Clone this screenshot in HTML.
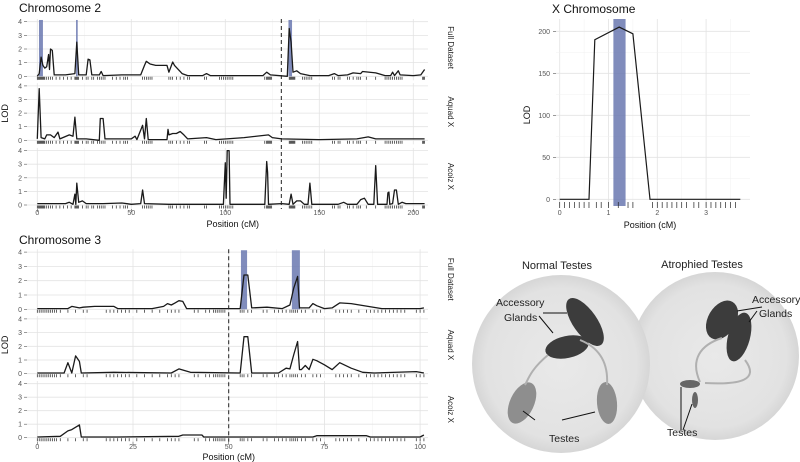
<!DOCTYPE html>
<html><head><meta charset="utf-8">
<style>
body{margin:0;background:#fff;}
svg{display:block;font-family:"Liberation Sans",sans-serif;}
</style></head>
<body>
<svg id="fig" width="800" height="462" viewBox="0 0 800 462" xmlns="http://www.w3.org/2000/svg">
<defs>
<radialGradient id="dish" cx="50%" cy="50%" r="50%">
<stop offset="0" stop-color="#e9e9e9"/><stop offset="0.85" stop-color="#e2e2e2"/><stop offset="1" stop-color="#d6d6d6"/>
</radialGradient>
</defs>
<g id="photo">
<circle cx="715" cy="356" r="84" fill="url(#dish)"/>
<circle cx="561" cy="364" r="89" fill="url(#dish)"/>
<g fill="#3c3c3c">
<ellipse cx="585" cy="322" rx="12" ry="28" transform="rotate(-35 585 322)"/>
<ellipse cx="567" cy="347" rx="22" ry="11" transform="rotate(-12 567 347)"/>
<ellipse cx="722" cy="320" rx="14" ry="21" transform="rotate(30 722 320)"/>
<ellipse cx="739" cy="337" rx="11" ry="25" transform="rotate(15 739 337)"/>
</g>
<g fill="#8e8e8e">
<ellipse cx="522" cy="403" rx="12" ry="22" transform="rotate(25 522 403)"/>
<ellipse cx="607" cy="403" rx="10" ry="21" transform="rotate(-5 607 403)"/>
<ellipse cx="690" cy="384" rx="10" ry="4" fill="#666"/>
<ellipse cx="695" cy="400" rx="3" ry="8" fill="#666"/>
</g>
<g fill="none" stroke="#b0b0b0" stroke-width="2">
<path d="M548 355 C530 370 528 380 525 385"/><path d="M580 340 C605 350 608 370 607 385"/>
<path d="M722 338 C700 345 690 360 700 382 M745 360 C760 380 740 385 705 383"/>
</g>
<g font-size="10.5" fill="#222">
<text x="557" y="269" text-anchor="middle" font-size="11">Normal Testes</text>
<text x="702" y="268" text-anchor="middle" font-size="11">Atrophied Testes</text>
<text x="496" y="306">Accessory</text>
<text x="504" y="321">Glands</text>
<text x="752" y="303">Accessory</text>
<text x="759" y="317">Glands</text>
<text x="549" y="442">Testes</text>
<text x="667" y="436">Testes</text>
</g>
<g stroke="#111" stroke-width="1" fill="none">
<path d="M543 313 L567 313 M539 316 L553 333 M535 420 L523 411 M562 420 L595 412 M762 307 L737 311 M757 311 L749 322 M681 430 L681 387 M683 430 L692 404"/>
</g>
</g>
<g id="plots"></g>
</svg>
<script>
// ---- Chromosome 2 data ----
const chr2FullPos = [0,1,2,3,4,5,6,6.5,7,8,9,15,20,21,22,26,27,28,29,33,34,35,45,55,57,58,60,63,69,70,72,73,77,80,88,90,92,120,122,124,133,134,135,136,138,140,145,155,158,160,165,168,172,173,180,185,188,189,190,192,193,200,204,206];
const chr2FullLod = [0,0.2,1.4,0.8,0.6,0.7,1.6,0.5,2.0,1.9,0.1,0.1,0.2,2.5,0.1,0.1,1.25,1.2,0.1,0.1,0.35,0.05,0.1,0.1,0.8,1.1,0.9,0.8,0.8,0.3,1.05,0.8,0.2,0.05,0.05,0.2,0.05,0.05,0.3,0.1,0,3.5,2.5,0.3,0.4,0.2,0.05,0.05,0.2,0.05,0.1,0.25,0.2,0.35,0.25,0.05,0.05,0.3,0.05,0.4,0.1,0.05,0.1,0.5];
const chr2AquadPos = [0,1,2,4,5,7,9,11,12,17,19,20,21,26,33,33.5,35,36,50,52,53,56,57,58,59,69,69.5,70,72,74,76,78,80,90,95,110,123,125,130,150,170,176,180,206];
const chr2AquadLod = [0.1,3.8,0.2,0.1,0.4,0.4,0.2,0.6,0.1,0.4,0.3,1.7,0.1,0.1,0,1.6,1.6,0.1,0.1,0.3,0.05,1.1,0.1,1.6,0.05,0.05,0.8,0.4,0.5,0.5,0.65,0.4,0.1,0.2,0.05,0.2,0.4,0.2,0.1,0.05,0.1,0.25,0.1,0.1];
const chr2AcoizPos = [0,15,17,19,20,20.5,21,22,24,26,35,45,50,55,56,57,70,99,100,100.5,101,102,102.5,121,122,122.5,123,130,134,135,136,138,140,142,144,145,146,160,163,165,170,172,174,176,179,180,181,186,186.5,187,187.5,189,190,191,192,194,196,206];
const chr2AcoizLod = [0.1,0.1,0.2,0.05,0.8,0.05,1.6,0.2,0.3,0.1,0.1,0.15,0.05,0.1,1.1,0.1,0.05,0.05,3.1,0.5,4.0,4.0,0.05,0.05,3.2,2.4,0.05,0.1,0.05,0.8,0.05,0.3,0.3,0.05,0.05,1.6,0.05,0.05,0.2,0.05,0.05,0.4,0.5,0.05,0.05,2.9,0.05,0.05,0.9,0.95,0.05,0.1,1.1,1.1,0.05,0.2,0.1,0.1];
const chr2BandStart = [0.9,20.6,133.6];
const chr2BandEnd = [3.0,21.5,135.5];
const chr2Dash = [129.8];
const chr2Markers = [0,0.5,1,1.5,2,2.5,3,3.5,4,5,6,7,8,10,12,14,16,18,20,20.5,21,21.5,22,24,26,27,29,30,32,33,34,35,36,40,42,44,46,47,48,56,57,58,59,60,61,70,71,72,74,76,78,80,81,89,90,97,98,99,100,101,102,103,104,121,122,122.5,123,123.5,124,124.5,134,134.5,135,135.5,136,136.5,137,141,142,143,144,145,146,157,158,160,161,165,166,168,170,171,172,175,180,185,186,187,188,189,190,191,192,193,194,205,205.5,206];
// ---- Chromosome 3 data ----
const chr3FullPos = [0,8,9,11,12,15,20,21,30,33,34,35,36,37,38,39,53,54,55,56,60,64,66,67,68,68.5,71,72,73,75,77,79,82,90,100,101];
const chr3FullLod = [0.05,0.05,0.2,0.1,0.15,0.2,0.2,0.05,0.05,0.2,0.4,0.3,0.45,0.6,0.55,0.05,0.05,2.4,2.4,0.1,0.15,0.05,0.3,1.5,2.3,0.1,0.1,0.4,0.25,0.05,0.1,0.45,0.4,0.05,0.05,0.1];
const chr3AquadPos = [0,7,8,9,10,11,11.5,20,35,37,40,53,54,55,56,63,65,66,67,68,68.5,69,70,71,72,73,75,77,79,82,85,88,99,101];
const chr3AquadLod = [0.05,0.05,0.8,0.05,1.3,0.9,0.05,0.1,0.05,0.35,0.1,0.05,2.7,2.7,0.05,0.05,0.4,0.35,1.4,2.35,0.3,0.3,0.6,0.3,1.05,0.95,0.65,0.3,0.8,0.4,0.1,0.05,0.15,0.05];
const chr3AcoizPos = [0,6,8,9,11,11.5,18,21,37,38,43,43.5,72,73,86,87,100,101];
const chr3AcoizLod = [0.05,0.1,0.5,0.6,0.95,0.05,0.05,0.05,0.1,0.2,0.2,0.05,0.05,0.15,0.15,0.05,0.05,0.2];
const chr3BandStart = [53.2,66.5];
const chr3BandEnd = [54.8,68.6];
const chr3Dash = [50];
const chr3Markers = [0,0.5,1,1.5,2,2.5,3,3.5,4,4.5,5,6,8,10,12,13,18,19,20,21,22,23,24,26,28,30,32,34,35,36,37,41,42,44,45,46,46.5,47,47.5,48,48.5,49,53,53.5,54,55,56,59,60,62,63,64,65,66,66.5,67,67.5,68,69,70,72,73,74,78,79,80,81,82,84,86,87,88,89,90,91,92,93,94,95,96,99,100,101];
// ---- X chromosome data ----
const chrXPos = [0,0.6,0.72,1.22,1.5,1.85,3.7];
const chrXLod = [0,0,190,205,197,0,0];
const chrXBandStart = [1.1];
const chrXBandEnd = [1.35];
const chrXMarkers = [0,0.1,0.2,0.3,0.4,0.5,0.6,0.75,0.85,1.0,1.2,1.4,1.5,1.9,2.0,2.1,2.2,2.3,2.4,2.5,2.6,2.75,2.85,3.0,3.1,3.2,3.3,3.4,3.5,3.6];
const chrXTicks = [0,1,2,3];
const lodTicks = [0,1,2,3,4];
const xLodTicks = [0,50,100,150,200];

const NS = "http://www.w3.org/2000/svg";
const root = document.getElementById('plots');
function mk(tag, attrs, parent){const e=document.createElementNS(NS,tag);for(const k in attrs)e.setAttribute(k,attrs[k]);(parent||root).appendChild(e);return e;}

function chromPanel(cfg){
  const sx = v => cfg.x0 + (v - 0) * cfg.pxPer;
  const g = mk('g',{});
  
  
  const t = mk('text',{x:19,y:cfg.titleY,'font-size':12,fill:'#111'},g); t.textContent=cfg.title;
  
  
  const ps = cfg.panels;
  ps.forEach((p,i)=>{
    const sy = v => p.y0 - v*p.per;
    const top = p.y0 - 4.2*p.per, bot = p.y0 + 4;
    const pg = mk('g',{},g);
    
    
    for (let v=0; v<=cfg.xmax; v+=cfg.minor){
      mk('line',{x1:sx(v),x2:sx(v),y1:top,y2:bot,stroke:(v%cfg.major===0)?'#e3e3e3':'#f0f0f0','stroke-width':(v%cfg.major===0)?0.8:0.5},pg);
    }
    lodTicks.forEach(v=>{
      mk('line',{x1:cfg.gx0,x2:cfg.gx1,y1:sy(v),y2:sy(v),stroke:'#e3e3e3','stroke-width':0.8},pg);
      const tl = mk('text',{x:cfg.gx0-5,y:sy(v)+2.5,'font-size':7,fill:'#555','text-anchor':'end'},pg); tl.textContent=v;
      
      
      mk('line',{x1:cfg.gx0-3,x2:cfg.gx0,y1:sy(v),y2:sy(v),stroke:'#555','stroke-width':0.6},pg);
    });
    if (i===0) cfg.bandS.forEach((s,j)=>{
      const r = mk('rect',{x:sx(s),y:top+1,width:sx(cfg.bandE[j])-sx(s),height:p.y0-top-1,fill:'#6a78b0','fill-opacity':0.85},pg);
      
      
    });
    cfg.markers.forEach(m=>{ mk('line',{x1:sx(m),x2:sx(m),y1:p.y0+0.5,y2:p.y0+3.5,stroke:'#222','stroke-width':0.7},pg); });
    const d = p.pos.map((v,k)=>(k?'L':'M')+sx(v).toFixed(1)+' '+sy(p.lod[k]).toFixed(1)).join(' ');
    const c = mk('path',{d:d,fill:'none',stroke:'#1a1a1a','stroke-width':1.3,'stroke-linejoin':'round'},pg);
    
    
    const sxp = cfg.gx1+20, syp = (top+p.y0)/2;
    const st = mk('text',{x:sxp,y:syp,'font-size':8,fill:'#222','text-anchor':'middle',transform:`rotate(90 ${sxp} ${syp})`},pg);
    st.textContent = p.label;
    
    
  });
  cfg.dash.forEach(v=>{
    const dl = mk('line',{x1:sx(v),x2:sx(v),y1:ps[0].y0-4.2*ps[0].per,y2:ps[2].y0+4,stroke:'#222','stroke-width':1,'stroke-dasharray':'4 3'},g);
    
    
  });
  for (let v=0; v<=cfg.xmax; v+=cfg.major){
    mk('line',{x1:sx(v),x2:sx(v),y1:ps[2].y0+4,y2:ps[2].y0+7,stroke:'#555','stroke-width':0.6},g);
    const xt = mk('text',{x:sx(v),y:cfg.xlabY,'font-size':7,fill:'#555','text-anchor':'middle'},g); xt.textContent=v;
    
    
  }
  const xa = mk('text',{x:cfg.x0+cfg.pxPer*cfg.xmid,y:cfg.xtitleY,'font-size':9,fill:'#111','text-anchor':'middle'},g); xa.textContent='Position (cM)';
  
  
  const ly=(ps[0].y0-4*ps[0].per+ps[2].y0)/2;
  const ya = mk('text',{x:8,y:ly,'font-size':9,fill:'#111','text-anchor':'middle',transform:`rotate(-90 8 ${ly})`},g); ya.textContent='LOD';
  
  
}

chromPanel({name:'chromosome-2',title:'Chromosome 2',titleY:12,x0:37.3,pxPer:1.88,xmax:206,major:50,minor:25,xmid:104,gx0:27,gx1:428,
  bandS:chr2BandStart,bandE:chr2BandEnd,dash:chr2Dash,markers:chr2Markers,xlabY:215,xtitleY:227,
  panels:[{key:'full',label:'Full Dataset',y0:76.3,per:13.65,pos:chr2FullPos,lod:chr2FullLod},
          {key:'aquad',label:'Aquad X',y0:140.3,per:13.6,pos:chr2AquadPos,lod:chr2AquadLod},
          {key:'acoiz',label:'Acoiz X',y0:205,per:13.6,pos:chr2AcoizPos,lod:chr2AcoizLod}]});
chromPanel({name:'chromosome-3',title:'Chromosome 3',titleY:244,x0:37.3,pxPer:3.828,xmax:101,major:25,minor:12.5,xmid:50,gx0:27,gx1:428,
  bandS:chr3BandStart,bandE:chr3BandEnd,dash:chr3Dash,markers:chr3Markers,xlabY:449,xtitleY:460,
  panels:[{key:'full',label:'Full Dataset',y0:309.3,per:14.3,pos:chr3FullPos,lod:chr3FullLod},
          {key:'aquad',label:'Aquad X',y0:373.7,per:13.7,pos:chr3AquadPos,lod:chr3AquadLod},
          {key:'acoiz',label:'Acoiz X',y0:437.7,per:13.5,pos:chr3AcoizPos,lod:chr3AcoizLod}]});

(function(){
  const sx = v => 559.7 + v*48.8;
  const sy = v => 199.3 - v*0.84;
  const g = mk('g',{});
  
  
  const t = mk('text',{x:552,y:13,'font-size':12,fill:'#111'},g); t.textContent='X Chromosome';
  
  
  const top=19, bot=206, left=556, right=750;
  for (let v=0; v<=3.5; v+=0.5) mk('line',{x1:sx(v),x2:sx(v),y1:top,y2:bot,stroke:(v%1===0)?'#e3e3e3':'#f0f0f0','stroke-width':(v%1===0)?0.8:0.5},g);
  for (let v=0; v<=200; v+=25) mk('line',{x1:left,x2:right,y1:sy(v),y2:sy(v),stroke:(v%50===0)?'#e3e3e3':'#f0f0f0','stroke-width':(v%50===0)?0.8:0.5},g);
  xLodTicks.forEach(v=>{
    const tl = mk('text',{x:left-6,y:sy(v)+2.5,'font-size':7,fill:'#555','text-anchor':'end'},g); tl.textContent=v;
    
    
    mk('line',{x1:left-3,x2:left,y1:sy(v),y2:sy(v),stroke:'#555','stroke-width':0.6},g);
  });
  chrXBandStart.forEach((s,j)=>{
    const r = mk('rect',{x:sx(s),y:top,width:sx(chrXBandEnd[j])-sx(s),height:bot-top,fill:'#6a78b0','fill-opacity':0.85},g);
    
    
  });
  chrXMarkers.forEach(m=> mk('line',{x1:sx(m),x2:sx(m),y1:202,y2:208,stroke:'#222','stroke-width':0.7},g));
  const d = chrXPos.map((v,k)=>(k?'L':'M')+sx(v).toFixed(1)+' '+sy(chrXLod[k]).toFixed(1)).join(' ');
  const c = mk('path',{d:d,fill:'none',stroke:'#1a1a1a','stroke-width':1.2},g);
  
  
  chrXTicks.forEach(v=>{
    const xt = mk('text',{x:sx(v),y:215,'font-size':7,fill:'#555','text-anchor':'middle'},g); xt.textContent=v;
    
    
  });
  const xa = mk('text',{x:650,y:228,'font-size':9,fill:'#111','text-anchor':'middle'},g); xa.textContent='Position (cM)';
  
  
  const ya = mk('text',{x:530,y:115,'font-size':9,fill:'#111','text-anchor':'middle',transform:'rotate(-90 530 115)'},g); ya.textContent='LOD';
  
  
})();
</script>
</body></html>
